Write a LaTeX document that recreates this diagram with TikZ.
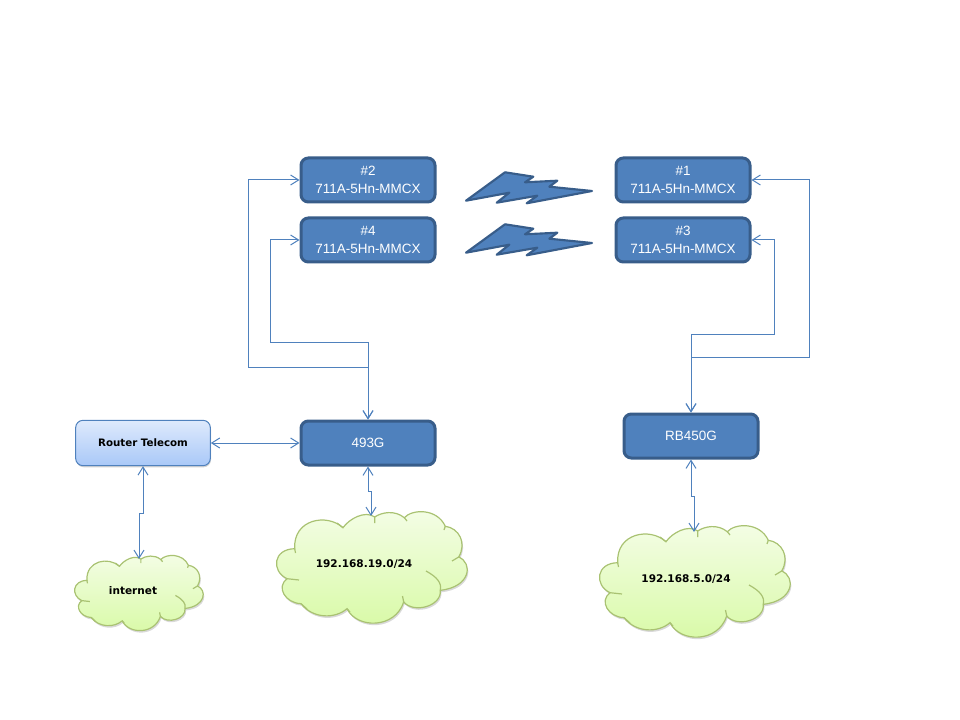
\documentclass[tikz,border=0pt]{standalone}
\usepackage{fontspec}
\setmainfont{Liberation Sans}
\newfontfamily\labelfont{DejaVu Sans}
\usetikzlibrary{arrows.meta,shadows}

\definecolor{boxblue}{HTML}{4F81BD}
\definecolor{boxedge}{HTML}{385D8A}
\definecolor{cloudedge}{HTML}{A9C272}
\definecolor{cloudtop}{HTML}{F4FDE6}
\definecolor{cloudbottom}{HTML}{D8FAA6}
\definecolor{routertop}{HTML}{DEEAFC}
\definecolor{routerbottom}{HTML}{A9C8F8}

\tikzset{
  device/.style={draw=boxedge, line width=2.25pt, fill=boxblue, rounded corners=5.5pt,
    minimum width=100.5pt, minimum height=33pt, align=center, text=white,
    font=\fontsize{10.1}{13}\selectfont},
  router/.style={draw=boxblue, line width=.75pt, rounded corners=5.5pt,
    top color=routertop, bottom color=routerbottom,
    minimum width=101pt, minimum height=34pt,
    drop shadow={shadow xshift=.5pt,shadow yshift=-1.2pt,opacity=.35},
    font=\labelfont\bfseries\fontsize{7.7}{10}\selectfont},
  netlabel/.style={font=\labelfont\bfseries\fontsize{7.9}{10}\selectfont},
  link/.style={draw=boxblue, line width=.75pt, {Straight Barb[length=6pt,width=7.5pt]}-{Straight Barb[length=6pt,width=7.5pt]}},
  bolt/.style={draw=boxedge, line width=1.6pt, fill=boxblue, line join=round},
  pics/netcloud/.style={code={
    \draw[draw=cloudedge, line width=.9pt, top color=cloudtop, bottom color=cloudbottom,
        drop shadow={shadow xshift=.8pt,shadow yshift=-1.5pt,opacity=.3}]
      (17.7,37.7) .. controls (16,8) and (50,2) .. (66,16.7)
      .. controls (72,8) and (88,-1) .. (97.7,6)
      .. controls (105,1) and (118,-1) .. (127.3,6.7)
      .. controls (135,-2) and (160,-3) .. (168.3,15.3)
      .. controls (182,17) and (190,32) .. (181.7,46)
      .. controls (196,52) and (194,76) .. (163.3,79.3)
      .. controls (165,95) and (137,103) .. (126.7,91)
      .. controls (118,118) and (80,118) .. (70,97.7)
      .. controls (58,108) and (36,108) .. (24,92.7)
      .. controls (8,92) and (-1,76) .. (10,67.7)
      .. controls (-6,60) and (-4,38) .. cycle;
    \draw[draw=cloudedge, line width=.9pt]
      (17.7,37.7) -- (18.5,42) (66,16.7) -- (60,12) (97.7,6) -- (97.7,12)
      (127.3,6.7) -- (130,10) (168.3,15.3) -- (167,19) (181.7,46) -- (175,50)
      (149,60) .. controls (160,66) and (165,72) .. (163.3,79.3)
      (126.7,91) -- (125.5,85) (70,97.7) -- (73,101) (24,92.7) -- (30,98)
      (10,67.7) -- (22,69);
  }}
}

\begin{document}
\begin{tikzpicture}[x=.75pt,y=-.75pt]
  \useasboundingbox (0,0) rectangle (960,720);

  \pic[scale=.674] at (75,555) {netcloud};
  \pic at (277,511) {netcloud};
  \pic at (600,525) {netcloud};

  \node[netlabel] (internet) at (133,591) {internet};
  \node[netlabel] (netb) at (364,564) {192.168.19.0/24};
  \node[netlabel] (netc) at (686,579) {192.168.5.0/24};

  \foreach \name/\x/\y/\num in {n2/368/180/2,n4/368/240/4,n1/683/180/1,n3/683/240/3}{
    \node[device] (\name) at (\x,\y) {\#\num\\711A-5Hn-MMCX};
  }
  \node[device] (ag) at (368,443) {493G};
  \node[device] (rb) at (691,436) {RB450G};
  \node[router] (tel) at (143,443) {Router Telecom};

  \foreach \boltshift in {0,52}{
    \draw[bolt, yshift=-\boltshift*.75pt] (466,200.7) -- (505,172.3) -- (533.3,176.7) -- (525,182.3)
      -- (557.3,180.7) -- (549.3,186.7) -- (592,191) -- (526.7,203.3) -- (537.3,195.7)
      -- (496.7,202.7) -- (509.3,192.7) -- cycle;
  }

  \coordinate (bend2) at (248,367);
  \coordinate (bend4) at (270,342);
  \coordinate (bend1) at (809,357);
  \coordinate (bend3) at (774,334);
  \coordinate (kinka) at (139,513);
  \coordinate (kinkb) at (371,491);
  \coordinate (kinkc) at (694,496);
  \coordinate (topa) at (139,559);
  \coordinate (topb) at (371,516);
  \coordinate (topc) at (694,532);

  \draw[link] (n2.west) -| (bend2) -| (ag.north);
  \draw[link] (n4.west) -| (bend4) -| (ag.north);
  \draw[link] (n1.east) -| (bend1) -| (rb.north);
  \draw[link] (n3.east) -| (bend3) -| (rb.north);
  \draw[link] (tel.east) -- (ag.west);
  \draw[link] (tel.south) |- (kinka) -- (topa);
  \draw[link] (ag.south) |- (kinkb) -- (topb);
  \draw[link] (rb.south) |- (kinkc) -- (topc);
\end{tikzpicture}
\end{document}
